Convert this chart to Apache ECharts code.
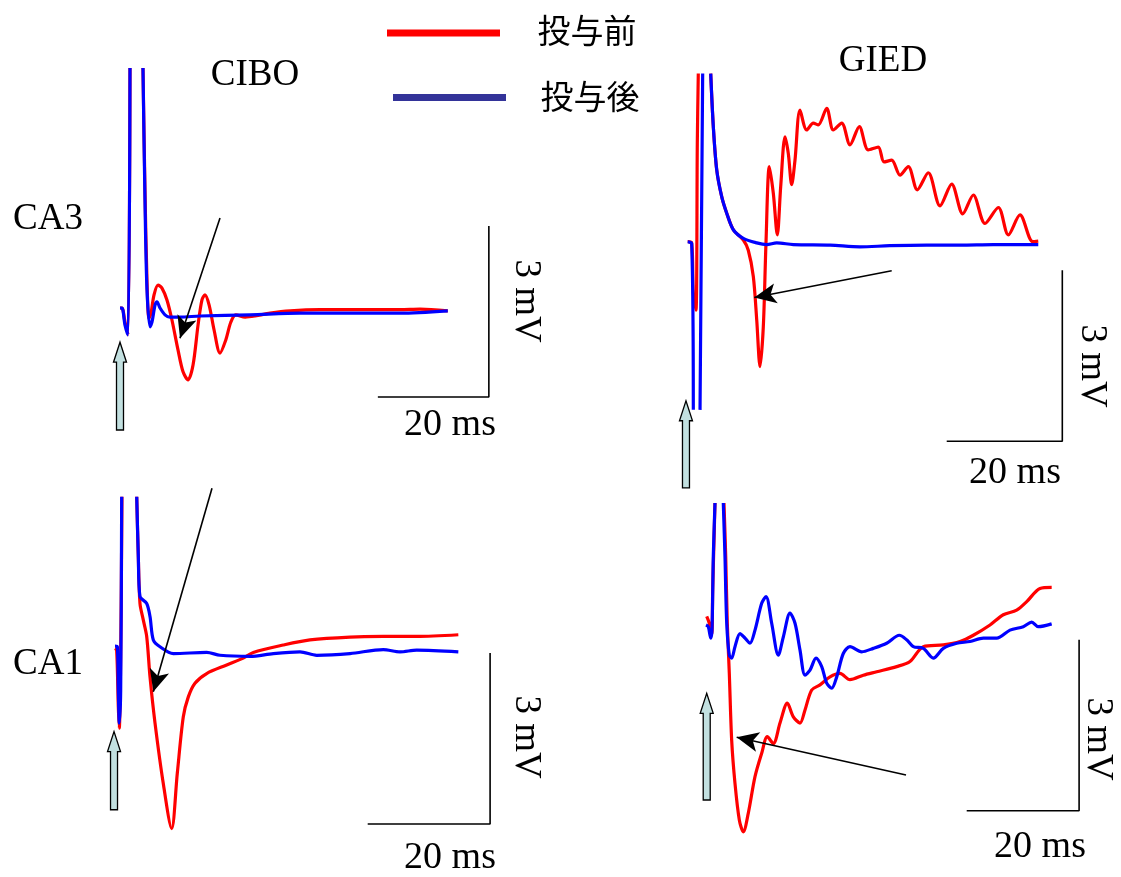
<!DOCTYPE html>
<html>
<head>
<meta charset="utf-8">
<script src="https://cdn.jsdelivr.net/npm/echarts@6/dist/echarts.min.js"></script>
<style>html,body{margin:0;padding:0;background:#fff}#c{width:1121px;height:877px}</style>
</head>
<body>
<div id="c"></div>
<script>
// ---- Data: time in ms, amplitude in mV (null = trace leaves the panel) ----
const cibo_ca3_pre = [[-0.36,0.07],[0,0.07],[0.54,-0.18],[1.08,-0.40],[1.44,4.28],[2.6,null],[3.78,4.28],[4.14,2.14],[4.5,0.56],[4.86,-0.11],[5.23,-0.02],[5.77,0.30],[6.49,0.47],[7.2,0.42],[8.1,0.21],[9.0,-0.14],[10.1,-0.67],[11.0,-1.05],[11.9,-1.19],[12.8,-0.93],[13.7,-0.23],[14.4,0.21],[14.95,0.30],[15.7,0.12],[16.6,-0.32],[17.66,-0.72],[18.7,-0.49],[19.6,-0.18],[20.5,-0.05],[22.2,-0.09],[24.0,-0.07],[26.7,-0.02],[30.3,0.02],[35.7,0.04],[42.9,0.04],[50.1,0.04],[53.7,0.05],[58.7,0.02]];
const cibo_ca3_post = [[-0.36,0.07],[0,0.07],[0.54,-0.23],[1.08,-0.40],[1.44,4.28],[2.6,null],[3.78,4.28],[4.14,1.96],[4.5,0.39],[5.05,-0.26],[5.4,-0.18],[5.95,0.12],[6.3,0.18],[6.85,0.07],[7.75,-0.05],[8.65,-0.09],[10.45,-0.09],[14.05,-0.07],[23.1,-0.05],[32.1,-0.02],[41.1,-0.02],[50.1,-0.02],[58.7,0.02]];

const gied_ca3_pre = [[-0.05,0.04],[0.64,0.02],[0.92,-0.86],[1.38,-1.16],[1.61,1.77],[1.78,2.99],[2.8,null],[3.93,2.99],[4.38,2.06],[4.97,1.30],[5.83,0.83],[6.70,0.54],[7.84,0.25],[9.57,0.07],[10.43,-0.11],[11.30,-0.57],[11.89,-1.33],[12.46,-2.15],[13.03,-1.45],[13.49,0.01],[14.07,1.36],[14.76,0.89],[15.45,0.16],[16.04,1.01],[16.78,1.88],[17.35,1.59],[17.94,1.04],[18.51,1.47],[19.38,2.35],[20.54,2.0],[21.68,2.12],[22.54,2.09],[24.0,2.38],[25.14,2.0],[26.59,2.12],[28.03,1.74],[29.64,2.06],[31.19,1.65],[32.92,1.70],[33.91,1.44],[35.24,1.47],[36.68,1.21],[38.11,1.36],[39.67,0.95],[41.57,1.25],[43.6,0.67],[45.62,1.05],[47.53,0.53],[49.36,0.86],[51.38,0.36],[53.69,0.64],[55.42,0.16],[57.44,0.51],[59.64,0.04],[60.6,0.05]];
const gied_ca3_post = [[-0.05,0.04],[0.64,0.01],[0.92,-2.91],[1.5,null],[2.08,-2.91],[2.54,2.99],[3.2,null],[3.93,2.99],[4.38,2.06],[4.97,1.30],[5.83,0.83],[6.70,0.54],[7.84,0.25],[9.57,0.10],[11.89,0.02],[13.62,-0.01],[15.35,0.02],[18.22,-0.01],[24.6,-0.02],[29.76,-0.05],[34.9,-0.03],[41.3,-0.02],[47.1,-0.02],[52.8,-0.01],[60.6,-0.01]];

const cibo_ca1_pre = [[0,0.08],[0.27,0.05],[0.54,-0.94],[0.70,-1.32],[0.93,-0.06],[1.14,2.74],[2.3,null],[3.55,2.74],[3.81,1.69],[4.08,0.87],[4.62,0.58],[5.18,0.29],[5.72,-0.42],[6.54,-1.23],[7.89,-2.29],[9.26,-3.08],[10.18,-2.11],[11.16,-1.12],[11.98,-0.77],[13.07,-0.53],[14.98,-0.36],[18.25,-0.21],[20.96,-0.09],[22.6,0.01],[27.5,0.14],[31.86,0.23],[38.4,0.28],[43.84,0.29],[49.3,0.29],[56.1,0.32]];
const cibo_ca1_post = [[0,0.12],[0.38,0.11],[0.54,-0.65],[0.70,-1.23],[0.93,-0.65],[1.09,2.74],[2.3,null],[3.55,2.74],[3.81,1.69],[4.08,0.99],[5.18,0.87],[5.72,0.64],[6.26,0.23],[7.35,0.11],[9.53,-0.01],[14.98,0.01],[17.16,-0.04],[22.06,-0.06],[25.87,-0.01],[30.23,0.02],[32.96,-0.04],[38.4,-0.01],[43.84,0.06],[46.57,0.02],[49.3,0.05],[56.1,0.02]];

const gied_ca1_pre = [[-0.05,0.15],[0.41,0.03],[0.84,-0.15],[1.01,0.61],[1.25,1.49],[1.42,2.14],[2.2,null],[3.02,2.14],[3.33,1.20],[3.61,0.03],[3.97,-0.85],[4.39,-2.02],[4.98,-2.78],[5.75,-3.42],[6.46,-3.63],[7.35,-3.30],[8.54,-2.66],[9.73,-2.25],[10.73,-1.96],[11.8,-2.08],[12.99,-1.72],[14.29,-1.37],[15.36,-1.61],[16.55,-1.72],[17.44,-1.49],[18.63,-1.14],[20.11,-1.05],[21.89,-0.91],[23.67,-0.85],[25.44,-0.96],[27.81,-0.88],[30.2,-0.82],[33.75,-0.73],[36.12,-0.64],[38.49,-0.38],[42.05,-0.35],[45.02,-0.29],[47.39,-0.18],[50.36,0],[52.72,0.18],[55.1,0.26],[56.89,0.41],[59.25,0.64],[61.33,0.66]];
const gied_ca1_post = [[-0.18,0],[0.23,-0.03],[0.66,-0.23],[0.89,-0.09],[1.12,1.20],[1.42,2.14],[2.2,null],[2.9,2.14],[3.2,1.20],[3.51,0.03],[3.97,-0.53],[4.39,-0.58],[4.98,-0.38],[5.87,-0.15],[6.76,-0.23],[7.65,-0.32],[8.54,-0.09],[9.73,0.38],[10.5,0.50],[11.51,0.03],[12.69,-0.53],[13.58,-0.21],[14.77,0.21],[15.66,0.03],[16.55,-0.44],[17.44,-0.88],[18.33,-0.79],[19.4,-0.58],[20.41,-0.73],[21.3,-1.02],[22.19,-1.11],[23.08,-0.91],[24.25,-0.50],[25.44,-0.38],[27.53,-0.47],[29.59,-0.41],[31.97,-0.32],[34.22,-0.18],[35.53,-0.26],[36.71,-0.38],[38.49,-0.41],[40.27,-0.58],[42.05,-0.41],[44.43,-0.32],[46.8,-0.29],[49.17,-0.23],[51.55,-0.23],[53.91,-0.09],[56.28,-0.03],[57.78,0.05],[58.95,-0.03],[61.33,0.02]];

// scale bars: [start ms, start mV] (20 ms horizontal, 3 mV vertical)
const scaleBars = [[46.1,-1.49],[44.76,-3.46],[41.29,-3.0],[46.21,-3.26]];
const scaleMs = 20, scaleMv = 3;
// annotation arrows: [fromMs, fromMv, toMs, toMv]
const pointers = [[17.66,1.65,10.45,-0.46],[35.24,-0.47,11.47,-0.94],[15.85,2.89,6.26,-0.68],[35.41,-2.63,5.28,-1.97]];
// stimulus arrows: [ms, bottom mV, tip mV]
const stimArrows = [[-0.36,-2.07,-0.53],[-0.35,-4.28,-2.75],[-0.16,-2.75,-1.38],[-0.05,-3.07,-1.2]];

const panels = [
  {pre: cibo_ca3_pre, post: cibo_ca3_post, x:[-4,68], y:[-2.3,4.3], grid:{left:99.8, top:66.9, width:399.6, height:376.2}},
  {pre: gied_ca3_pre, post: gied_ca3_post, x:[-5,74], y:[-4.5,3.0], grid:{left:659.1, top:73, width:456.62, height:427.5}},
  {pre: cibo_ca1_pre, post: cibo_ca1_post, x:[-3,64], y:[-3.3,2.95], grid:{left:96.64, top:484.85, width:410.04, height:356.25}},
  {pre: gied_ca1_pre, post: gied_ca1_post, x:[-3,68], y:[-3.8,2.14], grid:{left:690.14, top:503.02, width:399.02, height:338.58}}
];

const RED = '#ff0000', BLUE = '#0000ff';
const grids = [], xAxes = [], yAxes = [], series = [];
panels.forEach((p, i) => {
  grids.push(Object.assign({containLabel:false, show:false}, p.grid));
  xAxes.push({type:'value', gridIndex:i, min:p.x[0], max:p.x[1], show:false});
  yAxes.push({type:'value', gridIndex:i, min:p.y[0], max:p.y[1], show:false});
  const common = {type:'line', xAxisIndex:i, yAxisIndex:i, symbol:'none', silent:true, animation:false, connectNulls:false, clip:true};
  series.push(Object.assign({}, common, {name:'投与前', data:p.pre, smooth:0.3, lineStyle:{color:RED, width:3.2, join:'round'}, z:2}));
  series.push(Object.assign({}, common, {name:'投与後', data:p.post, smooth:0.3, lineStyle:{color:BLUE, width:3.2, join:'round'}, z:3}));
  const sb = scaleBars[i];
  const pt = pointers[i];
  series.push(Object.assign({}, common, {
    clip:false,
    data:[[sb[0], sb[1]],[sb[0]+scaleMs, sb[1]],[sb[0]+scaleMs, sb[1]+scaleMv]],
    lineStyle:{color:'#000', width:1.6}, z:4,
    markLine:{
      silent:true, animation:false, symbol:['none','arrow'], symbolSize:[15,22],
      lineStyle:{color:'#000', width:1.6, type:'solid'}, label:{show:false},
      data:[[{coord:[pt[0],pt[1]]},{coord:[pt[2],pt[3]]}]]
    }
  }));
  series.push({
    type:'custom', xAxisIndex:i, yAxisIndex:i, silent:true, animation:false, clip:false, z:5,
    data:[stimArrows[i]],
    renderItem:(params, api) => {
      const b = api.coord([api.value(0), api.value(1)]);
      const t = api.coord([api.value(0), api.value(2)]);
      const cx = b[0], yb = b[1], yt = t[1];
      const sw = 3.5, hw = 6.5, hl = 20;
      return {type:'polygon', shape:{points:[[cx-sw,yb],[cx-sw,yt+hl],[cx-hw,yt+hl],[cx,yt],[cx+hw,yt+hl],[cx+sw,yt+hl],[cx+sw,yb]]},
        style:{fill:'#c2e0e0', stroke:'#000', lineWidth:1.3}};
    }
  });
});

const serif = '"Liberation Serif", "DejaVu Serif", serif';
const cjk = '"Noto Sans CJK JP", "Noto Sans CJK SC", sans-serif';
function txt(s, x, y, size, rot, font) {
  return {type:'text', x:x, y:y, rotation:rot||0, silent:true,
    style:{text:s, font:(size)+'px '+(font||serif), fill:'#000', align:'center', verticalAlign:'middle'}};
}
const graphic = [
  {type:'rect', shape:{x:387, y:29.5, width:113, height:7}, style:{fill:RED}, silent:true},
  {type:'rect', shape:{x:393, y:94, width:113, height:7}, style:{fill:'#333399'}, silent:true},
  txt('投与前', 587, 30, 33, 0, cjk),
  txt('投与後', 590, 96, 33, 0, cjk),
  txt('CIBO', 255, 75, 37),
  txt('GIED', 883, 61, 37),
  txt('CA3', 48, 219, 37),
  txt('CA1', 48, 664, 37),
  txt('20 ms', 450, 425, 38),
  txt('20 ms', 1015, 473, 38),
  txt('20 ms', 450, 858, 38),
  txt('20 ms', 1040, 847, 38),
  txt('3 mV', 526, 301, 37, -Math.PI/2),
  txt('3 mV', 1092, 366, 37, -Math.PI/2),
  txt('3 mV', 526, 737, 37, -Math.PI/2),
  txt('3 mV', 1098, 739, 37, -Math.PI/2)
];

const chart = echarts.init(document.getElementById('c'), null, {renderer:'canvas'});
chart.setOption({
  backgroundColor:'#ffffff',
  animation:false,
  grid:grids, xAxis:xAxes, yAxis:yAxes, series:series, graphic:graphic
});
</script>
</body>
</html>
